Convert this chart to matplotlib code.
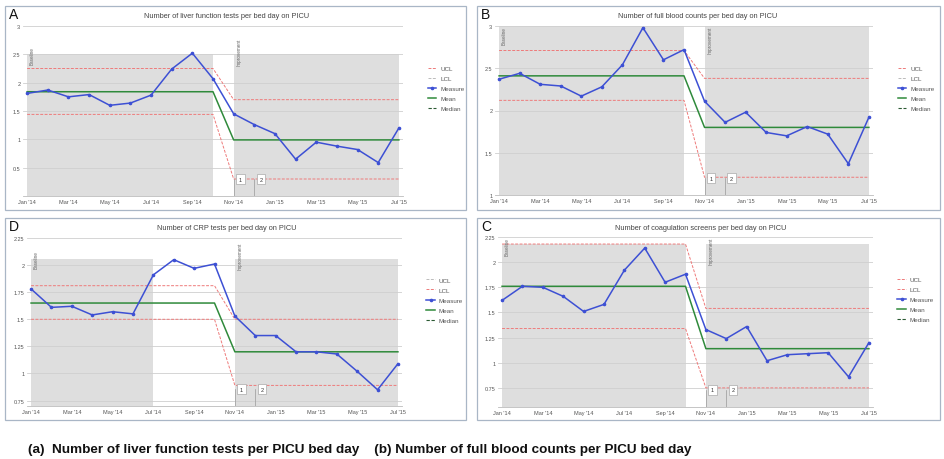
"""SPC charts of blood test requests per PICU bed day (four panels)."""
import matplotlib
matplotlib.use("Agg")
import matplotlib.pyplot as plt
from matplotlib.lines import Line2D
from matplotlib.patches import Rectangle
import matplotlib.transforms as mtransforms
import numpy as np

months = ["Jan '14", "Feb '14", "Mar '14", "Apr '14", "May '14", "Jun '14", "Jul '14",
          "Aug '14", "Sep '14", "Oct '14", "Nov '14", "Dec '14", "Jan '15", "Feb '15",
          "Mar '15", "Apr '15", "May '15", "Jun '15", "Jul '15"]

# measures
liver = [1.81, 1.87, 1.75, 1.79, 1.60, 1.64, 1.78, 2.24, 2.52, 2.07,
         1.45, 1.26, 1.10, 0.65, 0.95, 0.88, 0.82, 0.59, 1.20]
fbc = [2.37, 2.44, 2.31, 2.29, 2.17, 2.28, 2.54, 2.98, 2.60, 2.72,
       2.11, 1.86, 1.98, 1.74, 1.70, 1.81, 1.72, 1.37, 1.92]
crp = [1.78, 1.61, 1.62, 1.54, 1.57, 1.55, 1.91, 2.05, 1.97, 2.01,
       1.53, 1.35, 1.35, 1.20, 1.20, 1.18, 1.02, 0.85, 1.09]
coag = [1.62, 1.76, 1.75, 1.66, 1.51, 1.58, 1.92, 2.14, 1.80, 1.88,
        1.33, 1.24, 1.36, 1.02, 1.08, 1.09, 1.10, 0.86, 1.20]

# phase values (baseline Jan-Oct '14, improvement Nov '14-Jul '15)
n_base, n_impr = 10, 9
liver_mean, liver_ucl, liver_lcl = (1.84, 0.99), (2.25, 1.70), (1.44, 0.30)
fbc_mean, fbc_ucl, fbc_lcl = (2.41, 1.80), (2.71, 2.38), (2.12, 1.21)
crp_mean, crp_ucl, crp_lcl = (1.65, 1.20), (1.81, 1.50), (1.50, 0.89)
coag_mean, coag_ucl, coag_lcl = (1.76, 1.14), (2.18, 1.54), (1.34, 0.75)

# shaded phase extents (month index start, end) and top of the band
liver_shade = [(0, 9), (10, 18)]
fbc_shade = [(0, 9), (10, 18)]
crp_shade = [(0, 6), (10, 18)]
coag_shade = [(0, 9), (10, 18)]
shade_tops = {"A": 2.5, "B": 3.0, "D": 2.06, "C": 2.18}

W, H = 945, 460
BLUE = "#3d50d4"
GREEN = "#2f8a3b"
RED = "#ee7a7a"
GRID = "#cfcfcf"
SHADE = "#dedede"
TXT = "#555555"
FONT = "Liberation Sans"


def phase(vals):
    return np.repeat(vals, [n_base, n_impr])


def px_axes(fig, left, top, right, bottom):
    return fig.add_axes([left / W, 1 - bottom / H, (right - left) / W, (bottom - top) / H])


def frame(fig, left, top, right, bottom):
    fig.patches.append(Rectangle((left / W, 1 - bottom / H), (right - left) / W,
                                 (bottom - top) / H, transform=fig.transFigure,
                                 fill=False, edgecolor="#a9b6c6", linewidth=0.9))


panels = [
    dict(key="A", title="Number of liver function tests per bed day on PICU",
         data=liver, mean=liver_mean, ucl=liver_ucl, lcl=liver_lcl, shade=liver_shade,
         ylim=(0, 3), yticks=[0.5, 1, 1.5, 2, 2.5, 3], ylabels=["0.5", "1", "1.5", "2", "2.5", "3"],
         ax=(23, 27, 403, 197), box=(5, 7, 466, 211), title_xy=(227, 17),
         leg=(RED, "#bbbbbb")),
    dict(key="B", title="Number of full blood counts per bed day on PICU",
         data=fbc, mean=fbc_mean, ucl=fbc_ucl, lcl=fbc_lcl, shade=fbc_shade,
         ylim=(1, 3), yticks=[1, 1.5, 2, 2.5, 3], ylabels=["1", "1.5", "2", "2.5", "3"],
         ax=(495, 27, 873, 196), box=(477, 7, 940, 211), title_xy=(698, 17),
         leg=(RED, "#bbbbbb")),
    dict(key="D", title="Number of CRP tests per bed day on PICU",
         data=crp, mean=crp_mean, ucl=crp_ucl, lcl=crp_lcl, shade=crp_shade,
         ylim=(0.70, 2.25), yticks=[0.75, 1, 1.25, 1.5, 1.75, 2, 2.25],
         ylabels=["0.75", "1", "1.25", "1.5", "1.75", "2", "2.25"],
         ax=(27, 239, 402, 407), box=(5, 219, 466, 421), title_xy=(227, 229),
         leg=("#bbbbbb", RED)),
    dict(key="C", title="Number of coagulation screens per bed day on PICU",
         data=coag, mean=coag_mean, ucl=coag_ucl, lcl=coag_lcl, shade=coag_shade,
         ylim=(0.56, 2.25), yticks=[0.75, 1, 1.25, 1.5, 1.75, 2, 2.25],
         ylabels=["0.75", "1", "1.25", "1.5", "1.75", "2", "2.25"],
         ax=(498, 238, 873, 408), box=(477, 219, 940, 421), title_xy=(701, 229),
         leg=(RED, RED)),
]


def draw_panel(fig, p):
    ax = px_axes(fig, *p["ax"])
    x = np.arange(len(months))
    y0, y1 = p["ylim"]
    top = shade_tops[p["key"]]
    for s, e in p["shade"]:
        ax.add_patch(Rectangle((s, y0), e - s, top - y0, facecolor=SHADE,
                               edgecolor="none", zorder=0))
    for yt in p["yticks"]:
        ax.axhline(yt, color=GRID, linewidth=0.6, zorder=0.5)
    ax.plot(x, phase(p["ucl"]), color=RED, linewidth=0.7, linestyle=(0, (3, 1.5)), zorder=2)
    ax.plot(x, phase(p["lcl"]), color=RED, linewidth=0.7, linestyle=(0, (3, 1.5)), zorder=2)
    ax.plot(x, phase(p["mean"]), color=GREEN, linewidth=1.1, zorder=3)
    ax.plot(x, p["data"], color=BLUE, linewidth=1.1, marker="o", markersize=1.6, zorder=4)

    # phase annotations
    rng = y1 - y0
    ax.text(p["shade"][0][0] + 0.25, min(top + 0.05 * rng, y1), "Baseline", rotation=90,
            va="top", ha="center", fontsize=3.3, color="#666666", family=FONT)
    ax.text(p["shade"][1][0] + 0.25, min(top + 0.1 * rng, y1), "Improvement", rotation=90,
            va="top", ha="center", fontsize=3.3, color="#666666", family=FONT)
    trans = mtransforms.blended_transform_factory(ax.transData, ax.transAxes)
    for i, lab in enumerate(["1", "2"]):
        xm = p["shade"][1][0] + i
        ax.plot([xm, xm], [0.0, 0.1], transform=trans, color="#999999", linewidth=0.5, zorder=5)
        ax.text(xm + 0.32, 0.1, lab, transform=trans, fontsize=4, ha="center", va="center",
                family=FONT, color="#333333", zorder=6,
                bbox=dict(boxstyle="square,pad=0.5", facecolor="white",
                          edgecolor="#aaaaaa", linewidth=0.5))

    ax.set_xlim(-0.2, 18.2)
    ax.set_ylim(y0, y1)
    ax.set_xticks(x[::2])
    ax.set_xticklabels(months[::2])
    ax.set_yticks(p["yticks"])
    ax.set_yticklabels(p["ylabels"])
    ax.tick_params(length=0, labelsize=4, labelcolor=TXT, pad=2)
    for lbl in ax.get_xticklabels() + ax.get_yticklabels():
        lbl.set_family(FONT)
    for side in ["top", "right", "left"]:
        ax.spines[side].set_visible(False)
    ax.spines["bottom"].set_color("#bbbbbb")
    ax.spines["bottom"].set_linewidth(0.6)
    ax.patch.set_alpha(0)

    handles = [
        Line2D([], [], color=p["leg"][0], linewidth=0.7, linestyle=(0, (3, 1.5))),
        Line2D([], [], color=p["leg"][1], linewidth=0.7, linestyle=(0, (3, 1.5))),
        Line2D([], [], color=BLUE, linewidth=1.1, marker="o", markersize=1.6),
        Line2D([], [], color=GREEN, linewidth=1.1),
        Line2D([], [], color="#2b5a33", linewidth=0.8, linestyle=(0, (3, 1.5))),
    ]
    leg = ax.legend(handles, ["UCL", "LCL", "Measure", "Mean", "Median"],
                    loc="upper left", bbox_to_anchor=(1.05, 0.8), frameon=False,
                    handlelength=1.4, labelspacing=0.75, handletextpad=0.6,
                    prop=dict(family=FONT, size=4.5))
    for t in leg.get_texts():
        t.set_color(TXT)

    fig.text(p["title_xy"][0] / W, 1 - p["title_xy"][1] / H, p["title"], ha="center",
             va="center", fontsize=5.3, color="#444444", family=FONT)
    bx = p["box"]
    fig.text((bx[0] + 4) / W, 1 - (bx[1] + 8) / H, p["key"], ha="left", va="center",
             fontsize=10, color="#111111", family=FONT)
    frame(fig, *bx)


def main() -> None:
    fig = plt.figure(figsize=(W / 100, H / 100), dpi=100)
    for p in panels:
        draw_panel(fig, p)
    fig.text(28 / W, 1 - 450 / H,
             "(a)  Number of liver function tests per PICU bed day    "
             "(b) Number of full blood counts per PICU bed day",
             ha="left", va="center", fontsize=9.7, fontweight="bold", color="#111111",
             family=FONT)
    fig.savefig("out.png", dpi=100)
    plt.close(fig)


if __name__ == "__main__":
    main()
